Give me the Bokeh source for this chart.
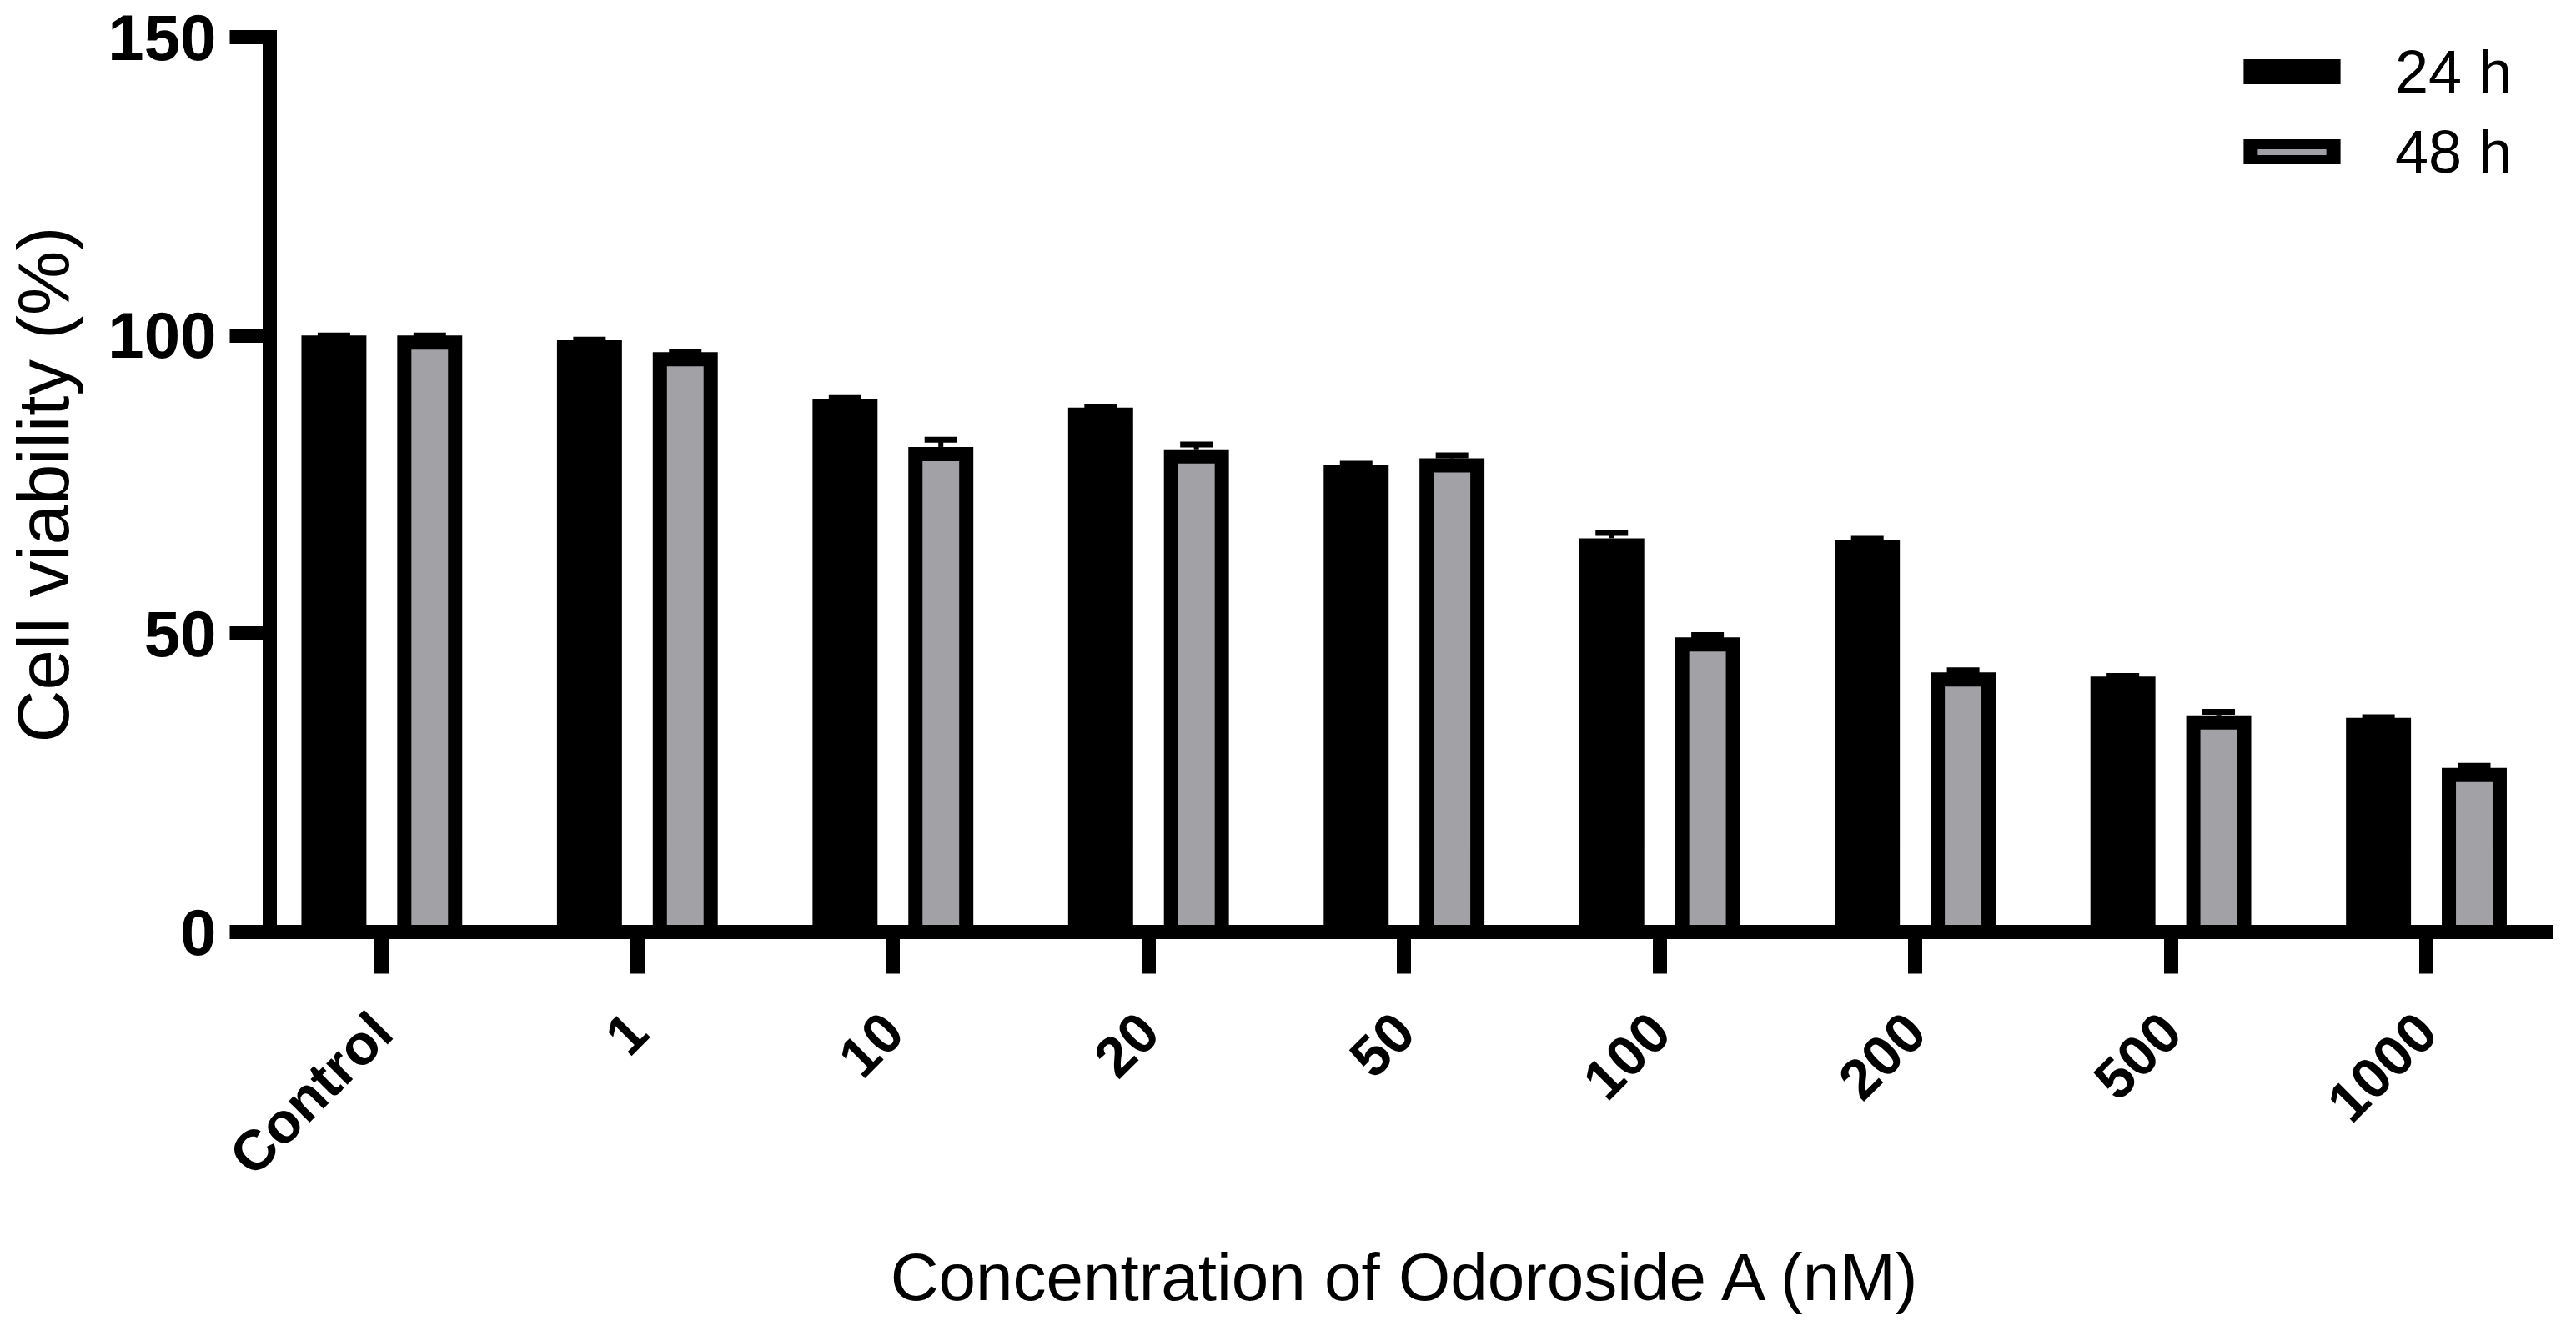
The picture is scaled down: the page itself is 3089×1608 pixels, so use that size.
import numpy as np
from math import pi
from bokeh.plotting import figure
from bokeh.models import (Range1d, FixedTicker, ColumnDataSource, Whisker, TeeHead,
                          Legend, LegendItem)
from bokeh.embed import file_html
from bokeh.resources import INLINE

# ---------------- data ----------------
categories = ["Control", "1", "10", "20", "50", "100", "200", "500", "1000"]
viability_24h = [100.0, 99.2, 89.3, 87.9, 78.3, 66.0, 65.7, 42.8, 35.9]
sem_24h = [0.0, 0.1, 0.2, 0.1, 0.2, 0.9, 0.2, 0.1, 0.1]
viability_48h = [100.0, 97.2, 81.3, 80.9, 79.4, 49.4, 43.5, 36.3, 27.5]
sem_48h = [0.0, 0.1, 1.2, 0.8, 0.5, 0.35, 0.35, 0.6, 0.35]
series_labels = ["24 h", "48 h"]
y_ticks = [0, 50, 100, 150]

# ---------------- layout / style ----------------
W, H = 3073, 1592
LEFT, RIGHT, TOP, BOTTOM = 320, 21, 44, 475
frame_w = W - LEFT - RIGHT
frame_h = H - TOP - BOTTOM
x_lo, x_hi = -0.4384, 8.4664
y_lo, y_hi = 0, 150
px_x = frame_w / (x_hi - x_lo)
px_y = frame_h / (y_hi - y_lo)

BORDER = 17          # bar / axis stroke width in px
BAR_OUTER = 78       # bar outer width in px
DODGE = 57.5         # bar centre offset from group centre, px
GREY = "#A2A1A6"
FONT = "Liberation Sans"

bar_w = (BAR_OUTER - BORDER) / px_x
inset = (BORDER / 2) / px_y
dodge = DODGE / px_x

idx = np.arange(len(categories), dtype=float)
v24 = np.array(viability_24h)
v48 = np.array(viability_48h)
e24 = np.array(sem_24h)
e48 = np.array(sem_48h)

src24 = ColumnDataSource(dict(x=idx - dodge, top=v24 - inset, val=v24, up=v24 + e24))
src48 = ColumnDataSource(dict(x=idx + dodge, top=v48 - inset, val=v48, up=v48 + e48))

p = figure(width=W, height=H, output_backend="svg", toolbar_location=None,
           x_range=Range1d(x_lo, x_hi), y_range=Range1d(y_lo, y_hi),
           min_border_left=LEFT, min_border_right=RIGHT,
           min_border_top=TOP, min_border_bottom=BOTTOM)
p.outline_line_color = None
p.grid.visible = False
p.background_fill_color = "white"
p.border_fill_color = "white"

r24 = p.vbar(x="x", top="top", bottom=0, width=bar_w, source=src24,
             fill_color="black", line_color="black", line_width=BORDER,
             line_join="miter")
r48 = p.vbar(x="x", top="top", bottom=0, width=bar_w, source=src48,
             fill_color=GREY, line_color="black", line_width=BORDER,
             line_join="miter")

for src in (src24, src48):
    w = Whisker(base="x", lower="val", upper="up", source=src, dimension="height",
                line_color="black", line_width=6,
                upper_head=TeeHead(size=39, line_width=7, line_color="black"),
                lower_head=None)
    p.add_layout(w)

# axes
for ax in (p.xaxis[0], p.yaxis[0]):
    ax.axis_line_width = BORDER
    ax.axis_line_color = "black"
    ax.axis_line_cap = "square"
    ax.major_tick_line_width = BORDER
    ax.major_tick_line_color = "black"
    ax.major_tick_in = 0
    ax.minor_tick_line_color = None
    ax.major_label_text_font = FONT
    ax.major_label_text_font_style = "bold"
    ax.major_label_text_color = "black"
    ax.axis_label_text_font = FONT
    ax.axis_label_text_font_style = "normal"
    ax.axis_label_text_color = "black"

p.yaxis.ticker = FixedTicker(ticks=y_ticks)
p.yaxis.major_tick_out = 48
p.yaxis.major_label_standoff = 16
p.yaxis.major_label_text_font_size = "78px"
p.yaxis.axis_label = "Cell viability (%)"
p.yaxis.axis_label_text_font_size = "87px"
p.yaxis.axis_label_standoff = 26

p.xaxis.ticker = FixedTicker(ticks=list(range(len(categories))))
p.xaxis.major_label_overrides = {i: c for i, c in enumerate(categories)}
p.xaxis.major_label_orientation = pi / 4
p.xaxis.major_tick_out = 50
p.xaxis.major_label_standoff = 58
p.xaxis.major_label_text_font_size = "68px"
p.xaxis.axis_label = "Concentration of Odoroside A (nM)"
p.xaxis.axis_label_text_font_size = "80px"
p.xaxis.axis_label_standoff = 34

# legend swatches are drawn at 80% of the glyph box, so enlarge the box
SW_W, SW_H = 99, 24
legend = Legend(items=[LegendItem(label=series_labels[0], renderers=[r24]),
                       LegendItem(label=series_labels[1], renderers=[r48])],
                location=(2363, 890), orientation="vertical",
                glyph_width=round(SW_W / 0.8), glyph_height=round(SW_H / 0.8),
                label_height=90, label_standoff=62, spacing=6, padding=0, margin=0,
                border_line_alpha=0, background_fill_alpha=0,
                label_text_font=FONT, label_text_font_size="72px",
                label_text_color="black")
p.add_layout(legend)

open("out.html", "w").write(file_html(p, INLINE))
